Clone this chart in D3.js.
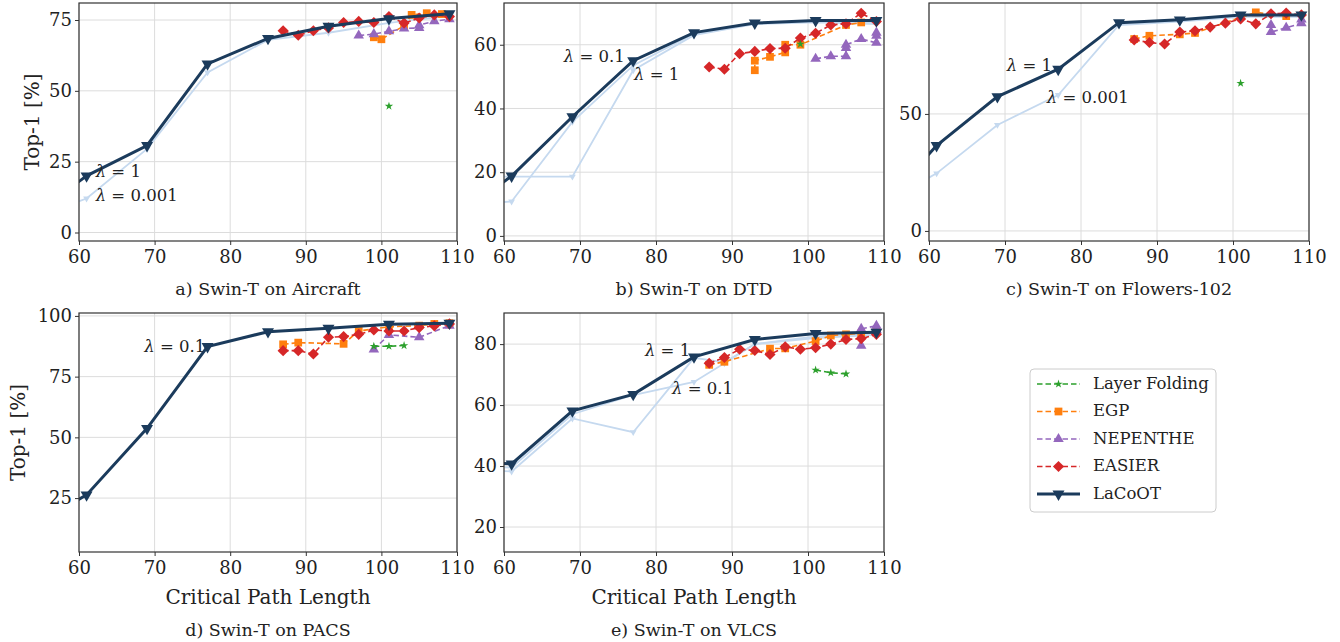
<!DOCTYPE html>
<html>
<head>
<meta charset="utf-8">
<script src="https://cdn.jsdelivr.net/npm/d3@7"></script>
<style>
  body { margin: 0; background: #fff; }
  svg text { fill: #222; }
</style>
</head>
<body>
<div id="chart"></div>
<script>
// critical path length on x, top-1 on y
const xTicks = [60, 70, 80, 90, 100, 110];
const lacootX = [53, 61, 69, 77, 85, 93, 101, 109];

// a) Aircraft
const aLaCoOT = [4, 20, 30.7, 59.5, 68.5, 72.8, 75.5, 77.2];
const aLight1 = [4, 12, 29.5, 56.5, 68, 70.5, 74, 76.5];
const aEasier = [[87, 71.2], [89, 69.6], [91, 71.2], [93, 72.2], [95, 74.1], [97, 74.5], [99, 74.1], [101, 76.2], [103, 73.9], [105, 75.7], [107, 76.8], [109, 76.2]];
const aEgp = [[99, 68.9], [100, 68.2], [103, 73], [104, 76.8], [106, 77.4], [108, 77.1]];
const aNepenthe = [[97, 69.5], [99, 70], [101, 71], [103, 72], [105, 72.2], [105, 73.2], [107, 74.6], [109, 75.3]];
const aFolding = [[101, 44.6]];

// b) DTD
const bLaCoOT = [4.4, 18.8, 37.4, 55, 63.8, 66.8, 67.6, 67.6];
const bLight1 = [18.6, 18.6, 18.6, 52, 63, 66.5, 67, 66.5];
const bLight2 = [9.5, 10.8, 35.8, 53.5, 63.5, 66.8, 67.3, 67];
const bEasier = [[87, 53], [89, 52.3], [91, 57.2], [93, 57.9], [95, 58.8], [97, 58.9], [99, 62.1], [101, 63.6], [103, 66.2], [105, 66.6], [107, 69.9], [109, 67.3]];
const bEgp = [[93, 52], [93, 55], [95, 56.2], [97, 57.6], [97, 60], [99, 60], [105, 66.2], [107, 67]];
const bNepenthe = [[101, 55.6], [103, 56.4], [105, 56.4], [105, 59], [105, 60], [107, 61.8], [109, 60.6], [109, 62.8], [109, 63.8]];
const bFolding = [[99, 60.2]];

// c) Flowers-102
const cLaCoOT = [7.7, 36.5, 57.4, 69.1, 89, 90.2, 92.3, 92.3];
const cLight1 = [10, 24.6, 45.3, 58.1, 88, 89.5, 91.5, 91.5];
const cEasier = [[87, 81.6], [89, 80.5], [91, 79.9], [93, 85], [95, 85.5], [97, 87.1], [99, 88.8], [101, 90.6], [103, 88.5], [105, 92.8], [107, 93.1], [109, 92.3]];
const cEgp = [[87, 82], [89, 83.4], [93, 84], [95, 84.6], [103, 93.4], [107, 91.8]];
const cNepenthe = [[105, 88], [105, 85], [107, 86.8], [109, 88.8], [109, 90.4]];
const cFolding = [[101, 63.1]];

// d) PACS
const dLaCoOT = [11.9, 26.3, 53.7, 87.4, 93.5, 94.9, 96.6, 97];
const dEasier = [[87, 85.7], [89, 85.7], [91, 84.3], [93, 91.2], [95, 91.5], [97, 92.4], [99, 94.2], [101, 93.8], [103, 93.8], [105, 95.2], [107, 95.9], [109, 96.7]];
const dEgp = [[87, 88.3], [89, 89], [95, 88.5], [97, 93.8], [101, 95.5], [105, 96], [107, 96.7], [109, 97]];
const dNepenthe = [[99, 86.2], [101, 92.2], [105, 91.2], [109, 96]];
const dFolding = [[99, 87.5], [101, 87.5], [103, 87.8]];

// e) VLCS
const eLaCoOT = [42, 40.7, 58.1, 63.5, 75.8, 81.5, 83.5, 83.9];
const eLight1 = [39, 38.2, 55.6, 51.1, 75.5, 74, 80, 82.5, 83.5];
const eLight1X = [53, 61, 69, 77, 85, 89, 93, 101, 109];
const eLight2 = [40, 39.5, 57, 63.3, 67.6, 73.7, 80, 82, 83];
const eEasier = [[87, 73.7], [89, 75.6], [91, 78.3], [93, 77.9], [95, 76.6], [97, 79.1], [99, 78.3], [101, 78.8], [103, 80], [105, 81.5], [107, 81.8], [109, 83.2]];
const eEgp = [[87, 73.2], [89, 74.2], [95, 78.5], [97, 78.6], [101, 81], [103, 82.8], [105, 83.2], [107, 83.5], [109, 84]];
const eNepenthe = [[107, 79.5], [107, 85], [109, 86], [109, 84.6]];
const eFolding = [[101, 71.5], [103, 70.6], [105, 70.2]];

const methods = ["Layer Folding", "EGP", "NEPENTHE", "EASIER", "LaCoOT"];
const colors = ["#2ca02c", "#ff7f0e", "#9467bd", "#d62728", "#1b3b5c"];
const lightColor = "#c5d9ef";
const serif = "DejaVu Serif";

const W = 1340, H = 642;
const svg = d3.select("#chart").append("svg").attr("width", W).attr("height", H)
  .attr("font-family", serif);

const zip = (xs, ys) => xs.map((x, i) => [x, ys[i]]);

const panels = [
  { title: "a) Swin-T on Aircraft", box: [79, 3, 457, 241], yDom: [-3, 81], yTicks: [0, 25, 50, 75],
    light: [zip(lacootX, aLight1)], lacoot: zip(lacootX, aLaCoOT),
    series: [aFolding, aEgp, aNepenthe, aEasier], ylab: true, xlab: false,
    notes: [{ t: "1", x: 62.2, y: 21.5, a: "start" }, { t: "0.001", x: 62.2, y: 13, a: "start" }] },
  { title: "b) Swin-T on DTD", box: [504, 3, 884, 241], yDom: [-1.6, 73.1], yTicks: [0, 20, 40, 60],
    light: [zip(lacootX, bLight1), zip(lacootX, bLight2)], lacoot: zip(lacootX, bLaCoOT),
    series: [bFolding, bEgp, bNepenthe, bEasier], ylab: false, xlab: false,
    notes: [{ t: "0.1", x: 75.9, y: 56.3, a: "end" }, { t: "1", x: 77.1, y: 50.6, a: "start" }] },
  { title: "c) Swin-T on Flowers-102", box: [929, 3, 1309, 241], yDom: [-4.3, 97.4], yTicks: [0, 50],
    light: [zip(lacootX, cLight1)], lacoot: zip(lacootX, cLaCoOT),
    series: [cFolding, cEgp, cNepenthe, cEasier], ylab: false, xlab: false,
    notes: [{ t: "1", x: 76.2, y: 70.5, a: "end" }, { t: "0.001", x: 75.5, y: 56.8, a: "start" }] },
  { title: "d) Swin-T on PACS", box: [79, 313, 457, 552], yDom: [2.8, 101.2], yTicks: [25, 50, 75, 100],
    light: [], lacoot: zip(lacootX, dLaCoOT),
    series: [dFolding, dEgp, dNepenthe, dEasier], ylab: true, xlab: true,
    notes: [{ t: "0.1", x: 76.7, y: 87.2, a: "end" }] },
  { title: "e) Swin-T on VLCS", box: [504, 313, 884, 552], yDom: [11.8, 90.2], yTicks: [20, 40, 60, 80],
    light: [zip(eLight1X, eLight1), zip(eLight1X, eLight2)], lacoot: zip(lacootX, eLaCoOT),
    series: [eFolding, eEgp, eNepenthe, eEasier], ylab: false, xlab: true,
    notes: [{ t: "1", x: 84.5, y: 77.7, a: "end" }, { t: "0.1", x: 82.1, y: 65.2, a: "start" }] }
];

const diamond = { draw(ctx, size) { const r = Math.sqrt(size / 2); ctx.moveTo(0, -r); ctx.lineTo(r, 0); ctx.lineTo(0, r); ctx.lineTo(-r, 0); ctx.closePath(); } };
const markerTypes = [d3.symbolStar, d3.symbolSquare, d3.symbolTriangle, diamond];
const markerSizes = [22, 60, 48, 62];

panels.forEach((p, pi) => {
  const [x0, y0, x1, y1] = p.box;
  const x = d3.scaleLinear().domain([60, 110]).range([x0, x1]);
  const y = d3.scaleLinear().domain(p.yDom).range([y1, y0]);
  const g = svg.append("g");

  const clipId = "clip" + pi;
  g.append("clipPath").attr("id", clipId).append("rect")
    .attr("x", x0).attr("y", y0).attr("width", x1 - x0).attr("height", y1 - y0);

  // grid
  g.append("g").selectAll("line").data(xTicks).join("line")
    .attr("x1", d => x(d)).attr("x2", d => x(d)).attr("y1", y0).attr("y2", y1)
    .attr("stroke", "#dcdcdc").attr("stroke-width", 1);
  g.append("g").selectAll("line").data(p.yTicks).join("line")
    .attr("x1", x0).attr("x2", x1).attr("y1", d => y(d)).attr("y2", d => y(d))
    .attr("stroke", "#dcdcdc").attr("stroke-width", 1);

  const plot = g.append("g").attr("clip-path", `url(#${clipId})`);
  const line = d3.line().x(d => x(d[0])).y(d => y(d[1]));

  // the other lambda runs, pale
  p.light.forEach(pts => {
    plot.append("path").datum(pts).attr("d", line)
      .attr("fill", "none").attr("stroke", lightColor).attr("stroke-width", 1.8);
    plot.selectAll(null).data(pts).join("path")
      .attr("transform", d => `translate(${x(d[0])},${y(d[1])}) rotate(180)`)
      .attr("d", d3.symbol(d3.symbolTriangle, 20)).attr("fill", lightColor);
  });

  // competitor methods
  const order = [1, 2, 3, 0];
  order.forEach(mi => {
    const pts = p.series[mi];
    plot.append("path").datum(pts).attr("d", line)
      .attr("fill", "none").attr("stroke", colors[mi]).attr("stroke-width", 1.6)
      .attr("stroke-dasharray", "5.5,3");
    plot.selectAll(null).data(pts).join("path")
      .attr("transform", d => `translate(${x(d[0])},${y(d[1])})`)
      .attr("d", d3.symbol(markerTypes[mi], markerSizes[mi])).attr("fill", colors[mi]);
  });

  plot.append("path").datum(p.lacoot).attr("d", line)
    .attr("fill", "none").attr("stroke", colors[4]).attr("stroke-width", 3);
  plot.selectAll(null).data(p.lacoot).join("path")
    .attr("transform", d => `translate(${x(d[0])},${y(d[1])}) rotate(180)`)
    .attr("d", d3.symbol(d3.symbolTriangle, 62)).attr("fill", colors[4]);

  // frame
  g.append("rect").attr("x", x0).attr("y", y0).attr("width", x1 - x0).attr("height", y1 - y0)
    .attr("fill", "none").attr("stroke", "#333").attr("stroke-width", 1.2);

  const xa = g.append("g").attr("transform", `translate(0,${y1})`)
    .call(d3.axisBottom(x).tickValues(xTicks).tickSize(4).tickPadding(3));
  const ya = g.append("g").attr("transform", `translate(${x0},0)`)
    .call(d3.axisLeft(y).tickValues(p.yTicks).tickSize(4).tickPadding(3));
  [xa, ya].forEach(a => {
    a.attr("font-family", serif);
    a.select(".domain").remove();
    a.selectAll(".tick line").attr("stroke", "#333");
    a.selectAll(".tick text").style("font-size", "18px").style("fill", "#222");
  });
  xa.selectAll(".tick text").attr("dy", "0.85em");

  if (p.ylab) {
    g.append("text").attr("transform", `translate(${pi === 0 ? 33 : 19},${(y0 + y1) / 2}) rotate(-90)`)
      .attr("text-anchor", "middle").attr("dominant-baseline", "middle")
      .style("font-size", "20px").text("Top-1 [%]");
  }
  if (p.xlab) {
    g.append("text").attr("x", (x0 + x1) / 2).attr("y", y1 + 52)
      .attr("text-anchor", "middle").style("font-size", "20px").text("Critical Path Length");
  }
  g.append("text").attr("x", (x0 + x1) / 2).attr("y", p.xlab ? y1 + 84 : y1 + 54)
    .attr("text-anchor", "middle").style("font-size", "17.5px").text(p.title);

  p.notes.forEach(n => {
    const t = g.append("text").attr("x", x(n.x)).attr("y", y(n.y))
      .attr("text-anchor", n.a).attr("dominant-baseline", "middle").style("font-size", "16.5px");
    t.append("tspan").style("font-style", "italic").text("λ");
    t.append("tspan").text(" = " + n.t);
  });
});

// legend
const lg = svg.append("g").attr("transform", "translate(1030,369)");
lg.append("rect").attr("width", 186).attr("height", 143).attr("rx", 4)
  .attr("fill", "#fff").attr("stroke", "#cccccc").attr("stroke-width", 1);
const ly = d3.scalePoint().domain(methods).range([15, 125]);
methods.forEach((m, mi) => {
  const yy = ly(m);
  lg.append("line").attr("x1", 7).attr("x2", 50).attr("y1", yy).attr("y2", yy)
    .attr("stroke", colors[mi]).attr("stroke-width", mi === 4 ? 3 : 1.6)
    .attr("stroke-dasharray", mi === 4 ? null : "5.5,3");
  const isDown = mi === 4;
  lg.append("path").attr("transform", `translate(28.5,${yy})${isDown ? " rotate(180)" : ""}`)
    .attr("d", d3.symbol(isDown ? d3.symbolTriangle : markerTypes[mi], isDown ? 62 : markerSizes[mi]))
    .attr("fill", colors[mi]);
  lg.append("text").attr("x", 63).attr("y", yy).attr("dominant-baseline", "middle")
    .style("font-size", "16.5px").text(m);
});
</script>
</body>
</html>
